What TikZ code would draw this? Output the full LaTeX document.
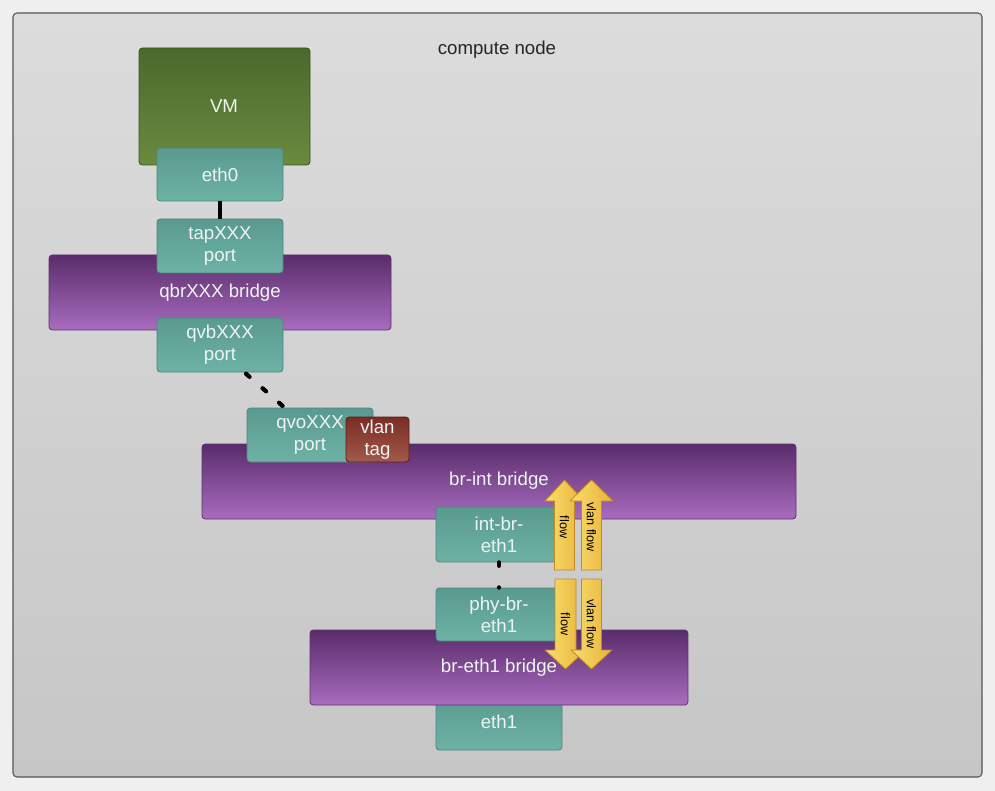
\documentclass[tikz,border=0pt]{standalone}
\usepackage{fontspec}
\setmainfont{Liberation Sans}
\definecolor{bgout}{HTML}{EFEFEF}
\definecolor{frtop}{HTML}{DCDCDC}
\definecolor{frbot}{HTML}{C6C6C6}
\definecolor{frline}{HTML}{555555}
\definecolor{grtop}{HTML}{4B692B}
\definecolor{grbot}{HTML}{6A8A40}
\definecolor{grline}{HTML}{3A5520}
\definecolor{tltop}{HTML}{5A9A8F}
\definecolor{tlbot}{HTML}{6DB2A5}
\definecolor{tlline}{HTML}{4C877C}
\definecolor{pptop}{HTML}{5A2C6B}
\definecolor{ppbot}{HTML}{A86CBF}
\definecolor{ppline}{HTML}{5E3070}
\definecolor{rdtop}{HTML}{7A2D24}
\definecolor{rdbot}{HTML}{A3594B}
\definecolor{rdline}{HTML}{5A1D16}
\definecolor{ylleft}{HTML}{F8DE6C}
\definecolor{ylright}{HTML}{E8B23A}
\definecolor{ylline}{HTML}{C08A22}
\definecolor{boxtext}{HTML}{EEF4F2}
\begin{document}
\begin{tikzpicture}[x=0.75pt,y=-0.75pt,
  boxfont/.style={font=\fontsize{14}{16.5}\selectfont},
  boxbase/.style={rounded corners=2.5pt, line width=0.6pt, inner sep=0pt, align=center,
    text=boxtext, boxfont},
  vmbox/.style={boxbase, draw=grline, top color=grtop, bottom color=grbot},
  portbox/.style={boxbase, draw=tlline, top color=tltop, bottom color=tlbot,
    minimum width=94.5pt, minimum height=40.5pt},
  bridgebox/.style={boxbase, draw=ppline, top color=pptop, bottom color=ppbot,
    minimum height=56.25pt},
  tagbox/.style={boxbase, draw=rdline, top color=rdtop, bottom color=rdbot},
  boxlabel/.style={text=boxtext, boxfont, inner sep=0pt},
  solidlink/.style={line width=3pt, black},
  dotlink/.style={line width=3.2pt, black, line cap=round, dash pattern=on 3.5pt off 13pt},
  shortdots/.style={line width=3.2pt, black, line cap=round, dash pattern=on 2.5pt off 16.25pt},
  yarrow/.style={draw=ylline, line width=0.6pt, left color=ylleft, right color=ylright, line join=round},
  arrowtext/.style={font=\fontsize{9.5}{11}\selectfont, text=black, rotate=-90, inner sep=0pt}
]
\useasboundingbox (0,0) rectangle (995,791);
\fill[bgout] (0,0) rectangle (995,791);
\draw[frline, line width=0.8pt, rounded corners=3pt, top color=frtop, bottom color=frbot]
  (13,13) rectangle (982,777);
\node[font=\fontsize{14}{16}\selectfont, text=black!85] (title) at (497,50) {compute node};

% VM and its interface
\node[vmbox, minimum width=128.25pt, minimum height=87.75pt] (vm) at (224.5,106.5) {};
\node[boxlabel] (vmlabel) at (224,106) {VM};
\node[portbox, minimum height=39.75pt] (eth0) at (220,174.5) {eth0};

% qbr bridge
\node[bridgebox, minimum width=256.5pt] (qbr) at (220,292.5) {};
\node[boxlabel] (qbrlabel) at (220,293) {qbrXXX bridge};
\node[portbox] (tap) at (220,246) {tapXXX\\port};
\node[portbox] (qvb) at (220,345) {qvbXXX\\port};

% br-int bridge
\node[bridgebox, minimum width=445.5pt] (brint) at (499,481.5) {};
\node[boxlabel] (brintlabel) at (499,481) {br-int bridge};
\node[portbox] (qvo) at (310,435) {qvoXXX\\port};
\node[tagbox, minimum width=47.25pt, minimum height=33.75pt] (vlan) at (377.5,439.5) {vlan\\tag};
\node[portbox, minimum height=41.25pt] (intbr) at (499,534.5) {int-br-\\eth1};

% br-eth1 bridge
\node[portbox, minimum height=41.25pt] (eth1) at (499,722.5) {};
\node[bridgebox, minimum width=283.5pt] (breth) at (499,667.5) {};
\node[boxlabel] (brethlabel) at (499,668) {br-eth1 bridge};
\node[boxlabel] (eth1label) at (499,722) {eth1};
\node[portbox, minimum height=39.75pt] (phybr) at (499,614.5) {phy-br-\\eth1};

% connectors
\draw[solidlink] (eth0.south) -- (tap.north);
\draw[dotlink] ([xshift=19.5pt,yshift=-1pt]qvb.south) -- ([xshift=-20.25pt,yshift=1pt]qvo.north);
\draw[shortdots] (intbr.south) -- (phybr.north);

% flow arrows (up)
\draw[yarrow] (554.5,570) -- (554.5,501) -- (545,501) -- (564.5,480) -- (584,501) -- (574.5,501) -- (574.5,570) -- cycle;
\draw[yarrow] (581.5,570) -- (581.5,501) -- (570,501) -- (591.5,480) -- (613,501) -- (601.5,501) -- (601.5,570) -- cycle;
\node[arrowtext] (upflow) at (564.5,527) {flow};
\node[arrowtext] (upvlan) at (591.5,527) {vlan flow};
% flow arrows (down)
\draw[yarrow] (555,579) -- (555,650) -- (545,650) -- (565.5,669) -- (586,650) -- (576,650) -- (576,579) -- cycle;
\draw[yarrow] (581.5,579) -- (581.5,650) -- (571,650) -- (591.5,669) -- (612,650) -- (601.5,650) -- (601.5,579) -- cycle;
\node[arrowtext] (downflow) at (565.5,624) {flow};
\node[arrowtext] (downvlan) at (591.5,624) {vlan flow};
\end{tikzpicture}
\end{document}
